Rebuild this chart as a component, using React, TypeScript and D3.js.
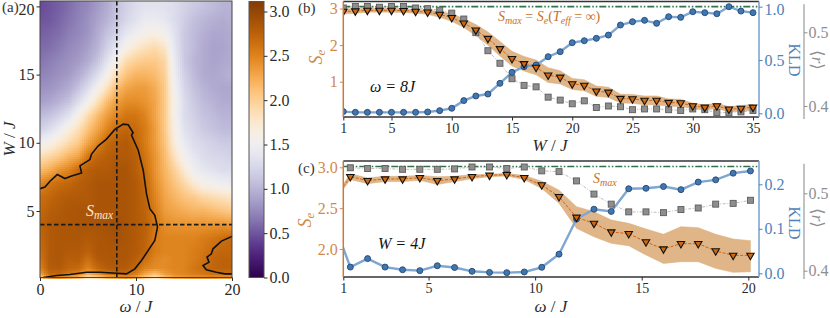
import React, { useEffect, useRef } from "react"
import * as d3 from "d3"

// panel (a) heat map on a coarse grid
const heatOmega = d3.range(0, 21)
const heatW = [0.1, 0.4, 0.8, 1.5, 2, 3, 4, 5, 6, 7, 8, 9, 10, 11, 12, 13, 14, 15, 16, 17, 18, 19, 20]
const heatValues = [
  [2.0, 2.4, 2.45, 2.3, 2.2, 1.75, 1.9, 2.2, 2.3, 2.4, 2.3, 2.0, 1.75, 2.1, 2.3, 2.35, 2.4, 2.4, 2.4, 2.35, 2.35],
  [2.3, 2.7, 2.7, 2.6, 2.5, 2.25, 2.45, 2.6, 2.7, 2.7, 2.55, 2.3, 2.15, 2.35, 2.45, 2.5, 2.55, 2.6, 2.65, 2.65, 2.65],
  [2.5, 2.8, 2.82, 2.72, 2.7, 2.5, 2.7, 2.8, 2.82, 2.8, 2.7, 2.5, 2.45, 2.45, 2.5, 2.5, 2.6, 2.65, 2.72, 2.75, 2.75],
  [2.6, 2.82, 2.85, 2.78, 2.8, 2.65, 2.82, 2.85, 2.85, 2.85, 2.78, 2.65, 2.5, 2.45, 2.5, 2.5, 2.55, 2.62, 2.72, 2.75, 2.75],
  [2.65, 2.82, 2.85, 2.82, 2.82, 2.75, 2.85, 2.85, 2.85, 2.85, 2.82, 2.72, 2.55, 2.5, 2.5, 2.5, 2.55, 2.6, 2.68, 2.72, 2.72],
  [2.7, 2.82, 2.85, 2.85, 2.85, 2.82, 2.85, 2.87, 2.9, 2.87, 2.82, 2.75, 2.55, 2.5, 2.5, 2.5, 2.5, 2.55, 2.6, 2.65, 2.7],
  [2.75, 2.82, 2.85, 2.85, 2.87, 2.87, 2.87, 2.9, 2.92, 2.87, 2.82, 2.76, 2.6, 2.45, 2.4, 2.4, 2.4, 2.4, 2.4, 2.4, 2.35],
  [2.7, 2.78, 2.82, 2.85, 2.87, 2.87, 2.87, 2.87, 2.87, 2.87, 2.82, 2.74, 2.55, 2.35, 2.3, 2.25, 2.2, 2.2, 2.15, 2.1, 2.05],
  [2.65, 2.72, 2.78, 2.82, 2.82, 2.82, 2.87, 2.87, 2.87, 2.87, 2.82, 2.72, 2.5, 2.3, 2.2, 2.1, 2.05, 1.95, 1.9, 1.85, 1.8],
  [2.5, 2.6, 2.68, 2.72, 2.78, 2.82, 2.87, 2.87, 2.87, 2.87, 2.82, 2.7, 2.45, 2.25, 2.1, 1.95, 1.75, 1.6, 1.55, 1.5, 1.45],
  [2.15, 2.25, 2.4, 2.5, 2.68, 2.78, 2.82, 2.82, 2.87, 2.87, 2.78, 2.65, 2.4, 2.2, 2.0, 1.75, 1.5, 1.4, 1.35, 1.3, 1.3],
  [1.85, 1.95, 2.05, 2.2, 2.3, 2.6, 2.72, 2.78, 2.82, 2.82, 2.78, 2.6, 2.4, 2.15, 1.85, 1.55, 1.4, 1.3, 1.25, 1.25, 1.2],
  [1.5, 1.6, 1.75, 1.9, 2.05, 2.3, 2.5, 2.7, 2.78, 2.82, 2.72, 2.55, 2.35, 2.1, 1.7, 1.45, 1.3, 1.25, 1.2, 1.15, 1.15],
  [1.2, 1.3, 1.45, 1.65, 1.85, 2.1, 2.3, 2.5, 2.68, 2.72, 2.68, 2.55, 2.35, 2.05, 1.65, 1.35, 1.25, 1.15, 1.1, 1.05, 1.05],
  [1.05, 1.1, 1.2, 1.35, 1.6, 1.9, 2.15, 2.35, 2.5, 2.6, 2.6, 2.5, 2.3, 2.05, 1.6, 1.3, 1.2, 1.1, 1.05, 1.0, 1.0],
  [0.88, 0.92, 1.0, 1.1, 1.3, 1.55, 1.85, 2.15, 2.35, 2.45, 2.45, 2.4, 2.3, 2.05, 1.6, 1.3, 1.15, 1.05, 1.0, 0.95, 0.95],
  [0.8, 0.82, 0.88, 0.95, 1.1, 1.3, 1.55, 1.85, 2.15, 2.3, 2.35, 2.35, 2.25, 2.05, 1.55, 1.25, 1.1, 1.0, 0.95, 0.92, 0.92],
  [0.72, 0.75, 0.8, 0.85, 0.95, 1.1, 1.3, 1.55, 1.88, 2.1, 2.2, 2.2, 2.15, 2.0, 1.5, 1.2, 1.05, 0.95, 0.92, 0.95, 1.0],
  [0.65, 0.7, 0.75, 0.8, 0.85, 0.95, 1.1, 1.35, 1.62, 1.9, 2.0, 2.05, 2.05, 1.95, 1.45, 1.15, 1.02, 0.95, 0.9, 0.92, 0.95],
  [0.6, 0.62, 0.68, 0.75, 0.8, 0.88, 1.0, 1.2, 1.38, 1.6, 1.75, 1.85, 1.9, 1.8, 1.4, 1.15, 1.05, 0.95, 0.9, 0.9, 0.95],
  [0.55, 0.58, 0.62, 0.7, 0.75, 0.82, 0.95, 1.1, 1.22, 1.4, 1.5, 1.6, 1.65, 1.55, 1.35, 1.15, 1.05, 0.98, 0.92, 0.92, 0.95],
  [0.5, 0.52, 0.58, 0.65, 0.72, 0.8, 0.9, 1.0, 1.12, 1.25, 1.35, 1.45, 1.45, 1.4, 1.3, 1.18, 1.08, 1.02, 0.98, 0.95, 0.98],
  [0.45, 0.5, 0.55, 0.62, 0.7, 0.75, 0.85, 0.95, 1.1, 1.2, 1.3, 1.35, 1.35, 1.35, 1.3, 1.22, 1.15, 1.1, 1.05, 1.0, 1.0],
]

const contourMain = [
  [0, 6.64], [0.52, 6.76], [1.04, 7.18], [1.8, 7.67], [2.6, 7.38], [3.29, 7.57], [4.33, 7.79], [4.16, 8.31],
  [5.2, 8.77], [5.37, 9.17], [6.07, 9.78], [6.93, 10.27], [7.8, 10.98], [8.67, 11.37], [9.19, 11.32], [9.7, 10.74],
  [9.53, 10.56], [10.23, 9.46], [10.75, 7.99], [11.09, 6.27], [11.44, 5.17], [11.96, 4.68], [12.24, 3.82],
  [11.96, 2.84], [11.27, 2.11], [10.57, 1.37], [9.88, 0.76], [9.01, 0.39], [7.97, 0.44], [6.24, 0.51], [4.85, 0.51],
  [3.12, 0.34], [1.73, 0.27], [0.35, 0.12],
]
const contourCorner = [
  [20, 3.14], [18.9, 2.79], [18.02, 2.23], [17.85, 1.86], [17.4, 1.62], [17.6, 1.25], [16.98, 1.0], [17.33, 0.69],
  [18.37, 0.51], [19.24, 0.39], [20, 0.39],
]

// panel (b), omega = 8J
const bW = d3.range(1, 36)
const bSe = [2.92, 2.93, 2.95, 2.95, 2.95, 2.94, 2.92, 2.9, 2.84, 2.75, 2.6, 2.41, 2.18, 1.9, 1.63, 1.49, 1.39, 1.18, 1.12,
  0.94, 0.9, 0.74, 0.71, 0.54, 0.53, 0.49, 0.49, 0.43, 0.42, 0.34, 0.3, 0.34, 0.25, 0.27, 0.3]
const bSeErr = [0.07, 0.06, 0.05, 0.05, 0.05, 0.05, 0.05, 0.06, 0.08, 0.1, 0.12, 0.15, 0.18, 0.2, 0.2, 0.2, 0.2, 0.2, 0.18,
  0.15, 0.15, 0.14, 0.14, 0.12, 0.12, 0.12, 0.12, 0.1, 0.1, 0.07, 0.07, 0.07, 0.07, 0.08, 0.08]
const bKld = [0.016, 0.009, 0.009, 0.009, 0.009, 0.009, 0.009, 0.0125, 0.025, 0.047, 0.119, 0.1625, 0.181, 0.281, 0.384,
  0.4375, 0.453, 0.531, 0.578, 0.6625, 0.681, 0.703, 0.734, 0.828, 0.859, 0.872, 0.844, 0.906, 0.9, 0.953, 0.944, 0.934, 1.0, 0.959, 0.944]
const bR = [0.533, 0.535, 0.535, 0.534, 0.535, 0.535, 0.533, 0.532, 0.53, 0.526, 0.518, 0.4995, 0.475, 0.458, 0.437, 0.428,
  0.426, 0.412, 0.408, 0.403, 0.407, 0.398, 0.4, 0.399, 0.395, 0.396, 0.396, 0.395, 0.394, 0.396, 0.395, 0.391, 0.391, 0.392, 0.394]

// panel (c), W = 4J; the first point sits left of the axis limit and gets clipped
const cOmega = [0.515, 1.33, 2.14, 2.96, 3.78, 4.59, 5.41, 6.22, 7.04, 7.86, 8.67, 9.49, 10.31, 11.12, 11.94, 12.76, 13.57,
  14.39, 15.2, 16.02, 16.84, 17.65, 18.47, 19.29, 20.1]
const cSe = [2.58, 2.886, 2.837, 2.857, 2.857, 2.873, 2.837, 2.857, 2.886, 2.902, 2.91, 2.873, 2.784, 2.64, 2.388, 2.314,
  2.208, 2.188, 2.086, 2.0, 2.065, 2.065, 1.976, 1.922, 1.922]
const cSeHigh = [2.6, 2.92, 2.87, 2.89, 2.89, 2.9, 2.885, 2.89, 2.91, 2.915, 2.925, 2.9, 2.83, 2.72, 2.518, 2.457, 2.355,
  2.314, 2.245, 2.18, 2.273, 2.261, 2.18, 2.122, 2.102]
const cSeLow = [2.56, 2.85, 2.8, 2.825, 2.825, 2.84, 2.79, 2.825, 2.86, 2.885, 2.895, 2.85, 2.74, 2.56, 2.253, 2.151, 2.069,
  2.04, 1.927, 1.824, 1.845, 1.845, 1.763, 1.714, 1.722]
const cKld = [0.118, 0.014, 0.033, 0.014, 0.008, 0.006, 0.017, 0.013, 0.0045, 0.002, 0.0015, 0.003, 0.0135, 0.043, 0.122,
  0.144, 0.139, 0.19, 0.191, 0.195, 0.188, 0.205, 0.21, 0.225, 0.23]
const cROmega = cOmega.slice(1)
const cR = [0.533, 0.532, 0.532, 0.531, 0.531, 0.531, 0.5315, 0.534, 0.534, 0.532, 0.534, 0.529, 0.528, 0.516, 0.499, 0.486,
  0.476, 0.476, 0.475, 0.479, 0.481, 0.486, 0.487, 0.491]

const SERIF = "'Liberation Serif', 'DejaVu Serif', serif"
const ORANGE_TEXT = "#cf8a4e"
const ORANGE_SPINE = "#c87a3a"
const BLUE_TEXT = "#4f82b8"
const BLUE_LINE = "#7ea6d2"
const GREY_TEXT = "#8f8f8f"
const INK = "#2b2b2b"

const heatColor = (v: number) => d3.interpolatePuOr(v / 3.13)

function sampleHeat(om: number, w: number) {
  const cw = Math.max(0, Math.min(heatOmega.length - 2, d3.bisectRight(heatOmega, om) - 1))
  const rw = Math.max(0, Math.min(heatW.length - 2, d3.bisectRight(heatW, w) - 1))
  const tx = Math.max(0, Math.min(1, (om - heatOmega[cw]) / (heatOmega[cw + 1] - heatOmega[cw])))
  const ty = Math.max(0, Math.min(1, (w - heatW[rw]) / (heatW[rw + 1] - heatW[rw])))
  const a = heatValues[rw][cw] * (1 - tx) + heatValues[rw][cw + 1] * tx
  const b = heatValues[rw + 1][cw] * (1 - tx) + heatValues[rw + 1][cw + 1] * tx
  return a * (1 - ty) + b * ty
}

function styleAxis(g: any, color: string, size = 16) {
  g.attr("font-family", SERIF).attr("font-size", size)
  g.selectAll("text").attr("fill", color)
  g.selectAll("line").attr("stroke", color).attr("stroke-width", 1)
  g.select(".domain").remove()
}

function addText(svg: any, x: number, y: number, parts: [string, any?][], opts: any = {}) {
  const t = svg.append("text").attr("x", x).attr("y", y)
    .attr("font-family", SERIF).attr("font-size", opts.size || 16)
    .attr("fill", opts.fill || INK).attr("text-anchor", opts.anchor || "middle")
  if (opts.rotate !== undefined) t.attr("transform", `rotate(${opts.rotate} ${x} ${y})`)
  parts.forEach(([s, o]) => {
    const sp = t.append("tspan").text(s)
    if (o && o.italic) sp.attr("font-style", "italic")
    if (o && o.sub) sp.attr("dy", 3).attr("font-size", (opts.size || 16) * 0.72)
    if (o && o.up) sp.attr("dy", -3)
  })
  return t
}

function drawHeat(svg: any) {
  const x = d3.scaleLinear().domain([0, 20]).range([40, 232])
  const y = d3.scaleLinear().domain([5, 10]).range([211, 142.8])
  const top = 1, bottom = 277.5
  const g = svg.append("g").attr("shape-rendering", "crispEdges")
  const step = 2
  for (let px = 40; px < 232; px += step) {
    for (let py = top; py < bottom; py += step) {
      g.append("rect").attr("x", px).attr("y", py).attr("width", step).attr("height", step)
        .attr("fill", heatColor(sampleHeat(x.invert(px + 1), y.invert(py + 1))))
    }
  }

  const line = d3.line<number[]>().x(d => x(d[0])).y(d => y(d[1]))
  ;[contourMain, contourCorner].forEach(c => {
    svg.append("path").attr("d", line(c)).attr("fill", "none").attr("stroke", "#111").attr("stroke-width", 1.6)
  })
  svg.append("line").attr("x1", x(8)).attr("x2", x(8)).attr("y1", top).attr("y2", bottom)
    .attr("stroke", "#1a1a1a").attr("stroke-width", 1.6).attr("stroke-dasharray", "4.5 2.5")
  svg.append("line").attr("x1", 40).attr("x2", 232).attr("y1", y(4)).attr("y2", y(4))
    .attr("stroke", "#1a1a1a").attr("stroke-width", 1.6).attr("stroke-dasharray", "4.5 2.5")

  svg.append("rect").attr("x", 40).attr("y", top).attr("width", 192).attr("height", bottom - top)
    .attr("fill", "none").attr("stroke", "#444").attr("stroke-width", 1)

  const ax = svg.append("g").attr("transform", `translate(0,${bottom})`)
    .call(d3.axisBottom(x).tickValues([0, 10, 20]).tickFormat(d3.format("d")).tickSize(3.5).tickPadding(3))
  styleAxis(ax, INK)
  const ay = svg.append("g").attr("transform", "translate(40,0)")
    .call(d3.axisLeft(y).tickValues([5, 10, 15, 20]).tickFormat(d3.format("d")).tickSize(3.5).tickPadding(2))
  styleAxis(ay, INK)
  // top label sits a little under its tick, keeps it inside the page
  ay.selectAll("text").filter((d: any) => d === 20).attr("y", 3)

  addText(svg, 136, 312, [["ω", { italic: true }], [" / "], ["J", { italic: true }]], { size: 17 })
  addText(svg, 15, 139, [["W", { italic: true }], [" / "], ["J", { italic: true }]], { size: 17, rotate: -90 })
  addText(svg, 86, 216, [["S", { italic: true }], ["max", { italic: true, sub: true }]], { size: 16, anchor: "start", fill: "#fbe6cd" })
  addText(svg, 2, 12, [["(a)"]], { size: 15, anchor: "start", fill: "#333" })

  // colour bar
  const cb = d3.scaleLinear().domain([0, 3]).range([277.5, 11.5])
  const cg = svg.append("g").attr("shape-rendering", "crispEdges")
  d3.range(1.5, 277.5, 1).forEach(py => {
    cg.append("rect").attr("x", 249).attr("y", py).attr("width", 15).attr("height", 1.2)
      .attr("fill", heatColor(cb.invert(py + 0.5)))
  })
  svg.append("rect").attr("x", 249).attr("y", 1.5).attr("width", 15).attr("height", 276)
    .attr("fill", "none").attr("stroke", "#555").attr("stroke-width", 1)
  const cax = svg.append("g").attr("transform", "translate(264,0)")
    .call(d3.axisRight(cb).tickValues([0, 0.5, 1, 1.5, 2, 2.5, 3]).tickFormat(d3.format(".1f")).tickSize(3.5).tickPadding(2))
  styleAxis(cax, INK)
}

function drawSeries(svg: any, p: any) {
  const left = 343.3, right = 759
  const clipId = "clip-" + p.id
  svg.append("clipPath").attr("id", clipId).append("rect")
    .attr("x", left).attr("y", p.top).attr("width", right - left).attr("height", p.bottom - p.top)
  const plot = svg.append("g").attr("clip-path", `url(#${clipId})`)

  const lineOf = (xs: number[], ys: number[], yScale: any) =>
    d3.line<number>().x((_, i) => p.x(xs[i])).y(d => yScale(d))(ys)

  // S_e band
  const band = d3.area<number>().x(d => p.x(d))
    .y0((_, i) => p.se(p.seLow[i])).y1((_, i) => p.se(p.seHigh[i]))
  plot.append("path").attr("d", band(p.xs)).attr("fill", "#e0b688").attr("stroke", "#d9a873").attr("stroke-width", 0.5)

  // <r>
  plot.append("path").attr("d", lineOf(p.rx, p.rv, p.r)).attr("fill", "none")
    .attr("stroke", "#bdbdbd").attr("stroke-width", 1).attr("stroke-dasharray", "3 1.5 1 1.5")
  // KLD
  plot.append("path").attr("d", lineOf(p.xs, p.kld, p.k)).attr("fill", "none")
    .attr("stroke", BLUE_LINE).attr("stroke-width", 2.4)
  // S_max
  plot.append("line").attr("x1", left).attr("x2", right).attr("y1", p.se(p.smax)).attr("y2", p.se(p.smax))
    .attr("stroke", "#2f7448").attr("stroke-width", 1.7).attr("stroke-dasharray", "7 2 1.5 2 1.5 2")
  // S_e line
  plot.append("path").attr("d", lineOf(p.xs, p.seV, p.se)).attr("fill", "none")
    .attr("stroke", "#c9641a").attr("stroke-width", 1).attr("stroke-dasharray", "3 1.5")

  plot.selectAll("rect.sq").data(p.rv).enter().append("rect").attr("class", "sq")
    .attr("x", (_: any, i: number) => p.x(p.rx[i]) - 3).attr("y", (d: number) => p.r(d) - 3)
    .attr("width", 6).attr("height", 6).attr("fill", "#8e8e8e").attr("stroke", "#5c5c5c").attr("stroke-width", 0.9)
  plot.selectAll("circle.kl").data(p.kld).enter().append("circle").attr("class", "kl")
    .attr("cx", (_: any, i: number) => p.x(p.xs[i])).attr("cy", (d: number) => p.k(d)).attr("r", 3)
    .attr("fill", "#3f76b4").attr("stroke", "#27486e").attr("stroke-width", 0.9)
  const tri = d3.symbol().type(d3.symbolTriangle).size(24)()
  plot.selectAll("path.tr").data(p.seV).enter().append("path").attr("class", "tr").attr("d", tri)
    .attr("transform", (d: number, i: number) => `translate(${p.x(p.xs[i])},${p.se(d)}) rotate(180)`)
    .attr("fill", "#d4670a").attr("stroke", "#111").attr("stroke-width", 1.1)

  // spines
  const spine = (x1: number, y1: number, x2: number, y2: number, c: string, w = 1.3) =>
    svg.append("line").attr("x1", x1).attr("y1", y1).attr("x2", x2).attr("y2", y2).attr("stroke", c).attr("stroke-width", w)
  spine(left, p.top, right, p.top, "#333")
  spine(left, p.bottom, right, p.bottom, "#333")
  spine(left, p.top, left, p.bottom, ORANGE_SPINE, 1.5)
  spine(right, p.top, right, p.bottom, BLUE_LINE, 1.6)
  spine(804, p.top + 2.8, 804, p.bottom + 2, "#a8a8a8", 1.4)

  const ax = svg.append("g").attr("transform", `translate(0,${p.bottom})`)
    .call(d3.axisBottom(p.x).tickValues(p.xTicks).tickFormat(d3.format("d")).tickSize(3.5).tickPadding(3))
  styleAxis(ax, INK, 14)
  const ay = svg.append("g").attr("transform", `translate(${left},0)`)
    .call(d3.axisLeft(p.se).tickValues(p.seTicks).tickFormat(p.seFormat).tickSize(3.5).tickPadding(2))
  styleAxis(ay, ORANGE_TEXT)
  const ak = svg.append("g").attr("transform", `translate(${right},0)`)
    .call(d3.axisRight(p.k).tickValues(p.kTicks).tickFormat(d3.format(".1f")).tickSize(3.5).tickPadding(2))
  styleAxis(ak, BLUE_TEXT)
  if (p.id === "b") ak.selectAll("text").filter((d: any) => d === 1).attr("y", 2.8)
  const ar = svg.append("g").attr("transform", "translate(804,0)")
    .call(d3.axisRight(p.r).tickValues([0.4, 0.5]).tickFormat(d3.format(".1f")).tickSize(3.5).tickPadding(1))
  styleAxis(ar, GREY_TEXT)
}

export default function App() {
  const ref = useRef<SVGSVGElement>(null)

  useEffect(() => {
    const svg = d3.select(ref.current)
    svg.selectAll("*").remove()

    drawHeat(svg)

    drawSeries(svg, {
      id: "b", top: 1.5, bottom: 117,
      x: d3.scaleLinear().domain([1, 35]).range([343.3, 753]),
      se: d3.scaleLinear().domain([1, 3]).range([81.7, 8.5]),
      k: d3.scaleLinear().domain([0, 1]).range([113.3, 6.7]),
      r: d3.scaleLinear().domain([0.4, 0.5]).range([106, 32.3]),
      xs: bW, seV: bSe, kld: bKld, rx: bW, rv: bR,
      seLow: bSe.map((v, i) => v - bSeErr[i]), seHigh: bSe.map((v, i) => v + bSeErr[i]),
      smax: 3.05,
      xTicks: [1, 5, 10, 15, 20, 25, 30, 35], seTicks: [1, 2, 3], seFormat: d3.format("d"), kTicks: [0, 0.5, 1],
    })
    drawSeries(svg, {
      id: "c", top: 161, bottom: 277,
      x: d3.scaleLinear().domain([1, 20]).range([343.3, 748.3]),
      se: d3.scaleLinear().domain([2, 3]).range([249, 167.3]),
      k: d3.scaleLinear().domain([0, 0.2]).range([273.3, 184.3]),
      r: d3.scaleLinear().domain([0.4, 0.5]).range([270.7, 193.3]),
      xs: cOmega, seV: cSe, kld: cKld, rx: cROmega, rv: cR,
      seLow: cSeLow, seHigh: cSeHigh,
      smax: 3.01,
      xTicks: [1, 5, 10, 15, 20], seTicks: [2, 2.5, 3], seFormat: d3.format(".1f"), kTicks: [0, 0.1, 0.2],
    })

    // labels for the two line panels
    addText(svg, 298, 13, [["(b)"]], { size: 15, anchor: "start", fill: "#333" })
    addText(svg, 298, 173, [["(c)"]], { size: 15, anchor: "start", fill: "#333" })
    addText(svg, 322, 57, [["S", { italic: true }], ["e", { italic: true, sub: true }]], { size: 18, fill: ORANGE_TEXT, rotate: -90 })
    addText(svg, 311, 220, [["S", { italic: true }], ["e", { italic: true, sub: true }]], { size: 18, fill: ORANGE_TEXT, rotate: -90 })
    addText(svg, 550, 151, [["W", { italic: true }], [" / "], ["J", { italic: true }]], { size: 17 })
    addText(svg, 551, 312, [["ω", { italic: true }], [" / "], ["J", { italic: true }]], { size: 17 })
    addText(svg, 370, 92, [["ω = 8J", { italic: true }]], { size: 16, anchor: "start", fill: "#111" })
    addText(svg, 378, 249, [["W = 4J", { italic: true }]], { size: 16, anchor: "start", fill: "#111" })
    addText(svg, 498, 21, [["S", { italic: true }], ["max", { italic: true, sub: true }], [" = ", { up: true }], ["S", { italic: true }], ["e", { italic: true, sub: true }], ["(", { up: true }], ["T", { italic: true }], ["eff", { italic: true, sub: true }], [" = ∞)", { up: true }]], { size: 14, anchor: "start", fill: "#c9702a" })
    addText(svg, 593, 183, [["S", { italic: true }], ["max", { italic: true, sub: true }]], { size: 14, anchor: "start", fill: "#c9702a" })
    addText(svg, 789, 60, [["KLD"]], { size: 16, fill: BLUE_TEXT, rotate: 90 })
    addText(svg, 789, 223, [["KLD"]], { size: 16, fill: BLUE_TEXT, rotate: 90 })
    addText(svg, 812, 60, [["⟨"], ["r", { italic: true }], ["⟩"]], { size: 17, fill: GREY_TEXT, rotate: 90 })
    addText(svg, 812, 218, [["⟨"], ["r", { italic: true }], ["⟩"]], { size: 17, fill: GREY_TEXT, rotate: 90 })
  }, [])

  return <svg ref={ref} width={830} height={318} style={{ position: "fixed", left: 0, top: 0, background: "#fff" }} />
}
